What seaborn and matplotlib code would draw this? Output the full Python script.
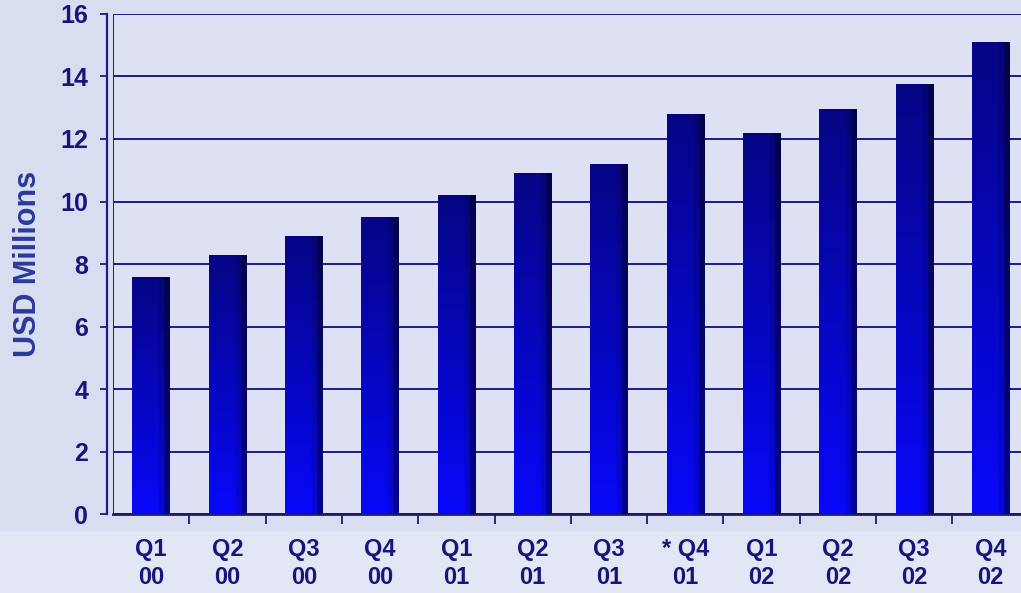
import numpy as np
import pandas as pd
import matplotlib
matplotlib.use("Agg")
import matplotlib.pyplot as plt
import seaborn as sns

quarters = ["Q1\n00", "Q2\n00", "Q3\n00", "Q4\n00", "Q1\n01", "Q2\n01",
            "Q3\n01", "* Q4\n01", "Q1\n02", "Q2\n02", "Q3\n02", "Q4\n02"]
revenue = [7.6, 8.3, 8.9, 9.5, 10.2, 10.9, 11.2, 12.8, 12.2, 12.95, 13.75, 15.1]
y_ticks = [0, 2, 4, 6, 8, 10, 12, 14, 16]

sns.set_theme(style="white")
plt.rcParams['font.family'] = ['Liberation Sans', 'DejaVu Sans']
plt.rcParams['font.weight'] = 'bold'

navy = "#16167c"
bg = "#d9ddf0"

fig = plt.figure(figsize=(10.21, 5.93), dpi=100, facecolor=bg)
# lighter band below the axis
fig.patches.append(plt.Rectangle((0, 0), 1, 0.105, transform=fig.transFigure,
                                 facecolor="#e3e6f5", edgecolor="none", zorder=-10))
ax = fig.add_axes([0.1107, 0.1332, 0.8968, 0.8432])
ax.set_facecolor("#dde1f3")

df = pd.DataFrame({"quarter": quarters, "value": revenue})
sns.barplot(data=df, x="quarter", y="value", ax=ax, color="#0000e0",
            width=0.49, edgecolor="none", zorder=3)

# gradient fill for each bar
nx, ny = 40, 200
xs = np.linspace(0, 1, nx)
ys = np.linspace(0, 1, ny)
X, Y = np.meshgrid(xs, ys)
top = np.array([0.02, 0.02, 0.52])
bot = np.array([0.03, 0.03, 0.98])
img = np.zeros((ny, nx, 3))
for c in range(3):
    img[..., c] = bot[c] + (top[c] - bot[c]) * Y
shade = np.where(X > 0.86, 0.55, 1.0)
shade = np.where((X > 0.70) & (X <= 0.86), 0.88, shade)
img = img * shade[..., None]

for p in ax.patches:
    x0, y0 = p.get_x(), p.get_y()
    w, h = p.get_width(), p.get_height()
    im = ax.imshow(img, extent=[x0, x0 + w, y0, y0 + h], origin="lower",
                   aspect="auto", zorder=3.5, interpolation="bilinear")
    im.set_clip_path(p)
    p.set_facecolor("none")
ax.set_xlim(-0.5, 11.5)
ax.set_ylim(0, 16)

for s in ["top", "right"]:
    ax.spines[s].set_visible(False)
ax.spines["left"].set_color("#1c1c8a")
ax.spines["left"].set_linewidth(1.6)
ax.spines["left"].set_position(("outward", 4))
ax.spines["bottom"].set_color("#1c1c6a")
ax.spines["bottom"].set_linewidth(2.0)

ax.set_yticks(y_ticks)
ax.set_yticklabels([str(t) for t in y_ticks], fontweight="bold")
ax.yaxis.grid(True, color="#1c1c8a", linewidth=1.4, zorder=1)
ax.xaxis.grid(False)
ax.set_axisbelow(True)
# inner wall edge line
ax.axvline(-0.5, color="#1c1c8a", linewidth=1.4, zorder=2)

ax.set_xticks(np.arange(len(quarters)))
ax.set_xticklabels(quarters, fontsize=17, fontweight="bold", color=navy,
                   linespacing=1.3)
ax.set_xticks(np.arange(len(quarters)) + 0.5, minor=True)
ax.tick_params(axis="x", which="major", length=0, pad=17)
ax.tick_params(axis="x", which="minor", length=7, width=1.3, color="#1c1c6a",
               direction="out", bottom=True)
ax.tick_params(axis="y", length=5, width=1.3, color="#1c1c6a", direction="out",
               labelsize=18, labelcolor=navy, left=True, pad=9)

ax.set_xlabel("")
ax.set_ylabel("USD Millions", fontsize=22, fontweight="bold", color="#2a3a9c",
              labelpad=12)

fig.savefig("out.png", dpi=100, facecolor=bg)
